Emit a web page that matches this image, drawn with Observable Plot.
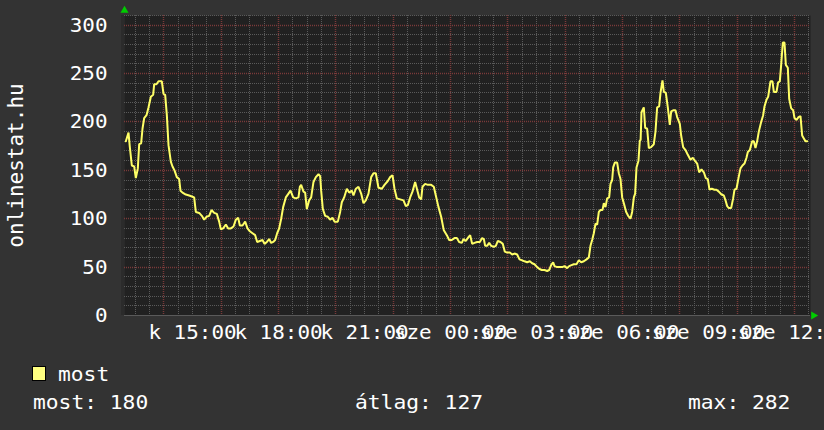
<!DOCTYPE html>
<html><head><meta charset="utf-8">
<script src="https://cdn.jsdelivr.net/npm/d3@7"></script>
<script src="https://cdn.jsdelivr.net/npm/@observablehq/plot@0.6"></script>
<style>
html,body{margin:0;padding:0;background:#333333;}
body{width:824px;height:430px;overflow:hidden;}
#chart svg,#legend svg{display:block;}
</style></head>
<body><div id="chart"></div><div id="legend"></div>
<script>
// time of day in hours (24 = midnight, next day)
const hours = [
12.675,12.768,12.814,12.884,12.965,13.023,13.093,13.140,13.209,13.256,
13.314,13.396,13.465,13.547,13.628,13.663,13.744,13.814,13.930,13.989,
14.047,14.105,14.163,14.244,14.302,14.372,14.453,14.535,14.581,14.651,
14.767,14.884,14.977,15.058,15.116,15.233,15.326,15.407,15.488,15.581,
15.663,15.756,15.849,15.930,15.988,16.070,16.163,16.244,16.337,16.430,
16.512,16.593,16.651,16.744,16.837,16.918,17.000,17.093,17.186,17.256,
17.349,17.442,17.511,17.593,17.674,17.744,17.814,17.883,17.953,18.023,
18.093,18.162,18.255,18.348,18.418,18.511,18.604,18.697,18.744,
18.790,18.871,18.930,18.988,19.069,19.139,19.220,19.302,19.395,19.453,
19.488,19.546,19.627,19.720,19.801,19.883,19.953,20.069,20.150,20.208,
20.290,20.383,20.464,20.557,20.615,20.697,20.790,20.883,20.964,21.045,
21.139,21.232,21.313,21.394,21.487,21.604,21.697,21.813,21.894,21.976,
22.045,22.127,22.243,22.359,22.441,22.510,22.592,22.673,22.766,22.836,
22.906,22.976,23.022,23.115,23.208,23.324,23.417,23.487,23.580,23.673,
23.766,23.871,23.952,24.045,24.138,24.220,24.301,24.394,24.452,24.533,
24.626,24.685,
24.755,24.836,24.929,25.022,25.103,25.162,25.208,25.278,25.348,25.417,
25.510,25.580,25.650,25.743,25.824,25.894,25.975,26.068,26.150,26.231,
26.324,26.406,26.499,26.580,26.673,26.766,26.847,26.929,27.022,27.103,
27.185,27.278,27.371,27.440,27.510,27.580,27.626,27.719,27.812,27.894,
27.975,28.068,28.138,28.219,28.301,28.394,28.475,28.557,28.650,28.743,
28.824,28.882,28.940,28.998,29.057,29.115,29.173,29.231,29.301,29.347,
29.405,29.463,29.533,29.580,29.638,29.673,29.731,29.812,29.870,29.929,
29.987,30.045,30.126,30.196,30.277,30.335,30.394,30.440,30.487,30.556,
30.603,30.630,
30.661,30.742,30.789,30.859,30.917,30.998,31.091,31.149,31.207,31.277,
31.324,31.393,31.440,31.510,31.579,31.649,31.696,31.765,31.847,31.905,
31.998,32.044,32.114,32.196,32.277,32.370,32.451,32.521,32.603,32.672,
32.754,32.835,32.905,32.975,33.033,33.114,33.207,33.277,33.358,33.451,
33.533,33.591,33.649,33.707,33.788,33.858,33.905,33.975,34.044,34.114,
34.184,34.253,34.323,34.370,34.440,34.521,34.579,34.637,34.695,34.753,
34.835,34.905,34.951,35.021,35.079,35.160,35.230,35.277,35.370,35.428,
35.486,35.533,35.591,35.649,35.696,35.765,35.812,35.882,35.952,35.998,
36.068,36.138,36.207,36.265,36.324,36.382,36.440
];
// online users ("most")
const users = [
180,189,174,155,154,142,152,177,178,193,
204,207,215,226,228,239,239,242,242,229,
228,207,176,159,154,150,143,141,129,127,
125,124,123,122,107,106,103,99,102,103,
109,106,105,97,89,90,94,90,90,92,
99,101,93,93,97,90,87,85,83,76,
77,78,74,76,79,75,76,78,85,90,
100,112,122,126,129,122,121,122,133,
135,128,127,110,119,122,138,143,146,144,
129,110,103,102,99,101,97,97,107,117,
122,131,127,129,124,131,133,126,116,119,
126,143,147,147,132,131,135,139,143,145,
131,121,120,119,113,114,122,128,138,130,
122,120,133,136,135,135,133,124,112,102,
88,83,78,78,80,80,76,75,79,77,
81,83,
74,75,76,76,80,79,72,72,75,72,
71,72,77,76,74,66,65,65,63,64,
63,58,57,56,55,56,54,53,50,48,
47,47,46,47,52,55,51,50,50,50,
51,49,51,52,53,53,57,55,56,58,
60,72,78,85,95,94,107,109,109,116,
112,121,122,136,140,153,158,158,147,141,
122,116,107,103,100,107,122,126,153,160,
181,181,
210,215,194,193,173,174,177,190,215,216,
230,243,231,230,215,197,211,212,212,205,
198,186,174,171,166,161,163,160,157,148,
151,148,142,141,130,131,130,130,128,125,
124,119,113,111,111,121,130,131,142,152,
155,157,163,169,171,180,180,173,180,190,
200,207,216,223,226,242,242,231,231,241,
242,259,282,282,259,256,224,214,212,204,
202,205,206,186,183,180,180
];
const xTicks = [15, 18, 21, 24, 27, 30, 33, 36];
const xTickLabels = ["k 15:00","k 18:00","k 21:00","sze 00:00","sze 03:00","sze 06:00","sze 09:00","sze 12:00"];
const yTicks = [0, 50, 100, 150, 200, 250, 300];
const yLabel = "onlinestat.hu";
const seriesName = "most";
const statNames = ["most", "átlag", "max"];
const statValues = [180, 127, 282];

const xDomain = [12.628, 36.556];
const yDomain = [0, 310];
const data = hours.map((h, i) => ({h, v: users[i]}));

const FONT = "'DejaVu Sans Mono', monospace";
const LINE = "#ffff66";
const minorX = d3.range(13, 36.56, 0.5).filter(d => d % 2 !== 0);
const majorX = d3.range(14, 36.56, 2);
const minorY = d3.range(10, 311, 10).filter(d => d % 50 !== 0);
const majorY = d3.range(50, 301, 50);

const chart = Plot.plot({
  width: 824, height: 350,
  marginLeft: 124, marginRight: 14, marginTop: 15, marginBottom: 35,
  style: {background: "transparent", color: "#ffffff", fontFamily: FONT, fontSize: "20px"},
  x: {domain: xDomain, label: null},
  y: {domain: yDomain, label: null},
  marks: [
    Plot.frame({fill: "#212121", stroke: "none"}),
    Plot.ruleX(minorX, {stroke: "#5a5a5a", strokeDasharray: "1,1"}),
    Plot.ruleY(minorY, {stroke: "#5a5a5a", strokeDasharray: "1,1"}),
    Plot.ruleX(majorX, {stroke: "#7a3a3a", strokeWidth: 1.5, strokeDasharray: "1,1"}),
    Plot.ruleY(majorY, {stroke: "#7a3a3a", strokeWidth: 1.5, strokeDasharray: "1,1"}),
    Plot.ruleX([xDomain[0]], {y1: 0, y2: yDomain[1], dx: -2, stroke: "#2b2b2b", strokeWidth: 3}),
    Plot.ruleY([0], {stroke: "#5a5a5a"}),
    Plot.line(data, {x: "h", y: "v", stroke: LINE, strokeWidth: 2, strokeLinejoin: "miter"}),
    Plot.dot([xDomain[0]], {x: d => d, y: () => yDomain[1], dy: -5, symbol: "triangle", r: 3, fill: "#00cc00", stroke: "none"}),
    Plot.dot([xDomain[1]], {x: d => d, y: () => 0, dx: 3, symbol: "triangle", rotate: 90, r: 3, fill: "#00cc00", stroke: "none"}),
    Plot.axisY(yTicks, {tickSize: 0, tickPadding: 17, fill: "#ffffff", label: null}),
    Plot.axisX(xTicks, {tickSize: 0, tickPadding: 9, fill: "#ffffff", label: null, tickFormat: d => xTickLabels[xTicks.indexOf(d)]}),
    Plot.text([yLabel], {frameAnchor: "left", dx: -108, rotate: -90, fill: "#ffffff", text: d => d, textAnchor: "middle", lineAnchor: "middle", fontSize: 21})
  ]
});
document.getElementById("chart").appendChild(chart);
// snap rule lines to whole pixels so the dotted grid renders crisp
chart.querySelectorAll("line").forEach(l => {
  ["x1", "x2", "y1", "y2"].forEach(a => {
    const v = l.getAttribute(a);
    if (v !== null) l.setAttribute(a, Math.round(+v));
  });
});
// widen axis glyphs to match reference advance width
chart.querySelectorAll("text").forEach(t => {
  const s = t.textContent;
  if (s && s !== yLabel && !t.querySelector("tspan")) {
    t.setAttribute("textLength", s.length * 12.6);
    t.setAttribute("lengthAdjust", "spacingAndGlyphs");
  }
});

// legend below the plot
const lg = d3.select("#legend").append("svg").attr("width", 824).attr("height", 80)
  .style("font-family", FONT).style("font-size", "19px");
lg.append("rect").attr("x", 32.5).attr("y", 16.5).attr("width", 13).attr("height", 14)
  .attr("fill", "#ffff80").attr("stroke", "#000");
const addText = (x, y, s) => lg.append("text").attr("x", x).attr("y", y).attr("fill", "#fff")
  .attr("textLength", s.length * 12.8).attr("lengthAdjust", "spacingAndGlyphs").text(s);
addText(58, 31, seriesName);
const statX = [33, 355, 688];
statNames.forEach((n, i) => addText(statX[i], 59, `${n}: ${statValues[i]}`));
</script></body></html>
